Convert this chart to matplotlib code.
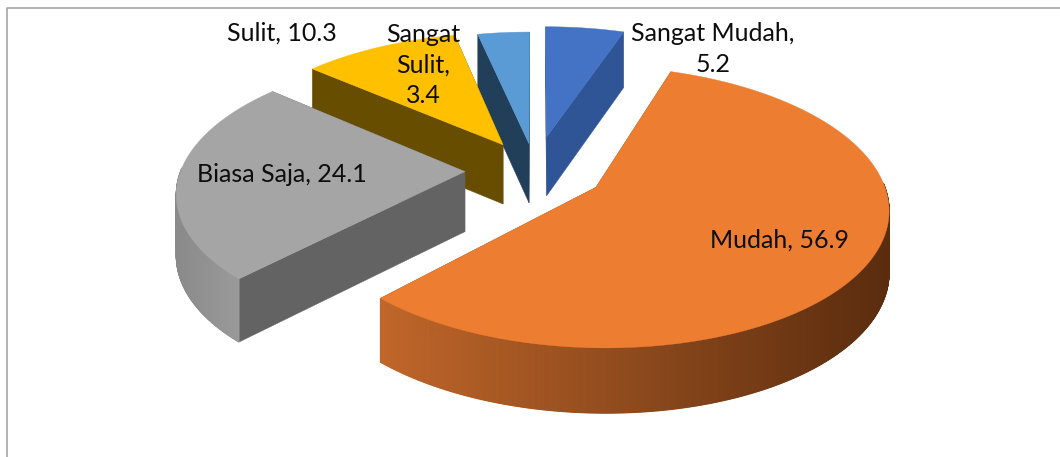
"""Exploded 3D pie of survey answers, drawn with a small perspective projection."""
import numpy as np
import matplotlib
matplotlib.use("Agg")
import matplotlib.pyplot as plt

categories = ["Sangat Mudah", "Mudah", "Biasa Saja", "Sulit", "Sangat Sulit"]
values = [5.2, 56.9, 24.1, 10.3, 3.4]

top_colors = ["#4472C4", "#ED7D31", "#A5A5A5", "#FFC000", "#5B9BD5"]
cut_colors = ["#2F5597", "#8A4A1C", "#636363", "#664D00", "#223F5A"]
rim_left = ["#2F5597", "#C0662A", "#8A8A8A", "#664D00", "#223F5A"]
rim_right = ["#2F5597", "#5A2C0E", "#9A9A9A", "#664D00", "#223F5A"]
explode = [74, 70, 70, 64, 58]

# projection, all in pixels of the 1060x457 canvas
CX, CY, R = 535, 170, 284
K, P, DEPTH = 0.47, 0.00048, 60


def project(x, y, z=0.0):
    s = 1.0 / (1.0 + P * y)
    return CX + x * s, CY - K * y * s + z * np.sqrt(s)


def mix(c1, c2, t):
    a = np.array(matplotlib.colors.to_rgb(c1))
    b = np.array(matplotlib.colors.to_rgb(c2))
    return tuple(a + (b - a) * t)


def draw_slice(ax, zo, a0, a1, offset, top, cut, left, right):
    mid = (a0 + a1) / 2
    ox, oy = offset * np.sin(mid), offset * np.cos(mid)
    th = np.linspace(a0, a1, max(int(np.degrees(a1 - a0)) * 4, 6))
    xs = ox + R * np.sin(th)
    ys = oy + R * np.cos(th)

    sx0, sy0 = project(xs, ys)
    sx1, sy1 = project(xs, ys, DEPTH)
    ax0, ay0 = project(ox, oy)
    ax1, ay1 = project(ox, oy, DEPTH)

    # the two cut faces go first, the rim hides whatever faces away
    for k in (0, -1):
        ax.fill([ax0, sx0[k], sx1[k], ax1], [ay0, sy0[k], sy1[k], ay1],
                color=cut, lw=0.3, zorder=zo)

    # outer rim, front part only, shaded by screen position
    front = np.where(np.cos(th) < 0.03)[0]
    if len(front) > 1:
        lo, hi = sx0[front].min(), sx0[front].max()
        for i in front[:-1]:
            t = ((sx0[i] + sx0[i + 1]) / 2 - lo) / max(hi - lo, 1)
            c = mix(left, right, t)
            ax.fill([sx0[i], sx0[i + 1], sx1[i + 1], sx1[i]],
                    [sy0[i], sy0[i + 1], sy1[i + 1], sy1[i]],
                    color=c, lw=0.8, zorder=zo + 0.2)

    # top face
    ax.fill(np.r_[ax0, sx0], np.r_[ay0, sy0], color=top, lw=0.3, zorder=zo + 0.5)


fig = plt.figure(figsize=(10.6, 4.57), dpi=100)
ax = fig.add_axes([0, 0, 1, 1])
ax.set_xlim(0, 1060)
ax.set_ylim(457, 0)
ax.axis("off")

# chart area border, only top and left are in frame
ax.plot([6.5, 6.5, 1060], [457, 7.5, 7.5], color="#a6a6a6", lw=1.2)

fr = np.array(values) / sum(values)
edges = np.r_[0, np.cumsum(fr)] * 2 * np.pi

# back to front
for zo, i in enumerate([4, 0, 3, 2, 1]):
    draw_slice(ax, 2 + zo, edges[i], edges[i + 1], explode[i], top_colors[i],
               cut_colors[i], rim_left[i], rim_right[i])

plt.rcParams["font.family"] = ["Lato", "DejaVu Sans"]
label_pos = [(713, 49), (780, 240), (282, 175), (282, 33), (423, 65)]
label_txt = [f"{categories[0]},\n{values[0]}",
             f"{categories[1]}, {values[1]}",
             f"{categories[2]}, {values[2]}",
             f"{categories[3]}, {values[3]}",
             "Sangat\nSulit,\n" + str(values[4])]
for (x, y), t in zip(label_pos, label_txt):
    ax.text(x, y, t, ha="center", va="center", fontsize=18, color="#0d0d0d",
            zorder=20, linespacing=1.42)

fig.savefig("out.png", dpi=100)
